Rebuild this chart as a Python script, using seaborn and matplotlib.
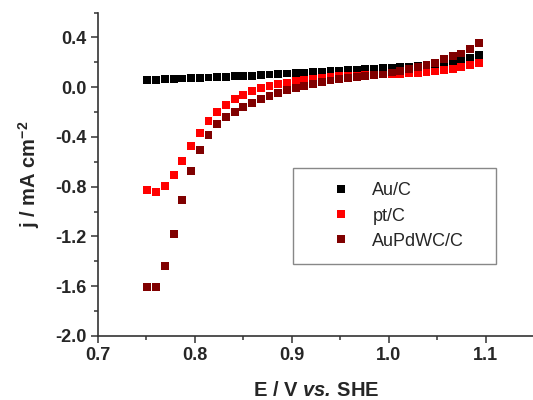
import pandas as pd
import numpy as np
import seaborn as sns
import matplotlib.pyplot as plt

# =============================================================================
# 数据
# =============================================================================
E = [0.751, 0.760, 0.769, 0.778, 0.787, 0.796, 0.805, 0.814, 0.823, 0.832,
     0.841, 0.850, 0.859, 0.868, 0.877, 0.886, 0.895, 0.904, 0.913, 0.922,
     0.931, 0.940, 0.949, 0.958, 0.967, 0.976, 0.985, 0.994, 1.003, 1.012,
     1.021, 1.030, 1.039, 1.048, 1.057, 1.066, 1.075, 1.084, 1.093]

j_au = [0.057, 0.060, 0.063, 0.066, 0.069, 0.072, 0.075, 0.078, 0.081, 0.084,
        0.087, 0.090, 0.093, 0.097, 0.102, 0.106, 0.110, 0.114, 0.118, 0.122,
        0.126, 0.130, 0.134, 0.138, 0.142, 0.146, 0.150, 0.154, 0.158, 0.162,
        0.166, 0.170, 0.174, 0.178, 0.184, 0.196, 0.214, 0.234, 0.258]

j_pt = [-0.830, -0.843, -0.792, -0.706, -0.591, -0.473, -0.366, -0.275, -0.200, -0.144,
        -0.096, -0.061, -0.029, -0.005, 0.009, 0.025, 0.035, 0.049, 0.061, 0.070,
        0.077, 0.083, 0.087, 0.090, 0.093, 0.096, 0.099, 0.102, 0.105, 0.108,
        0.111, 0.115, 0.119, 0.126, 0.137, 0.149, 0.162, 0.178, 0.196]

j_aupdwc = [-1.603, -1.603, -1.434, -1.177, -0.904, -0.676, -0.505, -0.385, -0.299, -0.243,
            -0.197, -0.162, -0.125, -0.098, -0.071, -0.045, -0.026, -0.010, 0.010, 0.027,
            0.041, 0.053, 0.063, 0.073, 0.081, 0.088, 0.095, 0.102, 0.118, 0.133,
            0.148, 0.160, 0.175, 0.191, 0.223, 0.250, 0.271, 0.306, 0.357]

labels = ['Au/C', 'pt/C', 'AuPdWC/C']
colors = ['#000000', '#ff0000', '#800000']

x_ticks = [0.7, 0.8, 0.9, 1.0, 1.1]
y_ticks = [-2.0, -1.6, -1.2, -0.8, -0.4, 0.0, 0.4]

df = pd.DataFrame({
    'E': E * 3,
    'j': j_au + j_pt + j_aupdwc,
    'sample': [labels[0]] * len(E) + [labels[1]] * len(E) + [labels[2]] * len(E),
})

# =============================================================================
# 绘图
# =============================================================================
sns.set_style('ticks')
plt.rcParams['font.family'] = ['Liberation Sans', 'DejaVu Sans']
plt.rcParams['axes.unicode_minus'] = False
plt.rcParams['mathtext.fontset'] = 'custom'
plt.rcParams['mathtext.rm'] = 'Liberation Sans:bold'
plt.rcParams['mathtext.bf'] = 'Liberation Sans:bold'
plt.rcParams['mathtext.it'] = 'Liberation Sans:bold:italic'
plt.rcParams['mathtext.bfit'] = 'Liberation Sans:bold:italic'

fig = plt.figure(figsize=(5.33, 4.0), dpi=100)
ax = fig.add_axes([98 / 533, 64 / 400, 436 / 533, 323.5 / 400])

sns.scatterplot(data=df, x='E', y='j', hue='sample', hue_order=labels,
                palette=colors, marker='s', s=32, linewidth=0, ax=ax)

ax.set_xlim(0.7, 1.15)
ax.set_ylim(-2.0, 0.6)
ax.set_xticks(x_ticks)
ax.set_yticks(y_ticks)
ax.set_xticks([0.75, 0.85, 0.95, 1.05], minor=True)
ax.set_yticks([-1.8, -1.4, -1.0, -0.6, -0.2, 0.2, 0.6], minor=True)
ax.set_xticklabels([f'{v:.1f}' for v in x_ticks], fontsize=13, fontweight='bold')
ax.set_yticklabels([f'{v:.1f}' for v in y_ticks], fontsize=13, fontweight='bold')
ax.tick_params(which='major', direction='out', length=5, width=1.1, color='#333333', pad=3)
ax.tick_params(which='minor', direction='out', length=3, width=1.1, color='#333333')

sns.despine(ax=ax)
for side in ['left', 'bottom']:
    ax.spines[side].set_linewidth(1.2)
    ax.spines[side].set_color('#333333')

ax.set_xlabel(r'E / V $\mathbfit{vs.}\,$SHE', fontsize=14.5, fontweight='bold', labelpad=12)
ax.set_ylabel(r'j / mA cm$^{-2}$', fontsize=14.5, fontweight='bold', labelpad=10)

handles, _ = ax.get_legend_handles_labels()
if ax.get_legend() is not None:
    ax.get_legend().remove()
leg = ax.legend(handles, labels, loc='upper left', mode='expand',
                bbox_to_anchor=(293 / 533, 1 - 263 / 400, 203 / 533, 95 / 400),
                bbox_transform=fig.transFigure,
                borderaxespad=0, fontsize=13, frameon=True, fancybox=False,
                handlelength=3.7, handletextpad=-0.1, borderpad=0.8, labelspacing=0.45,
                markerscale=1.0)
leg.get_frame().set_edgecolor('#888888')
leg.get_frame().set_linewidth(1.0)
leg.get_frame().set_alpha(1)

fig.savefig('out.png', dpi=100)
